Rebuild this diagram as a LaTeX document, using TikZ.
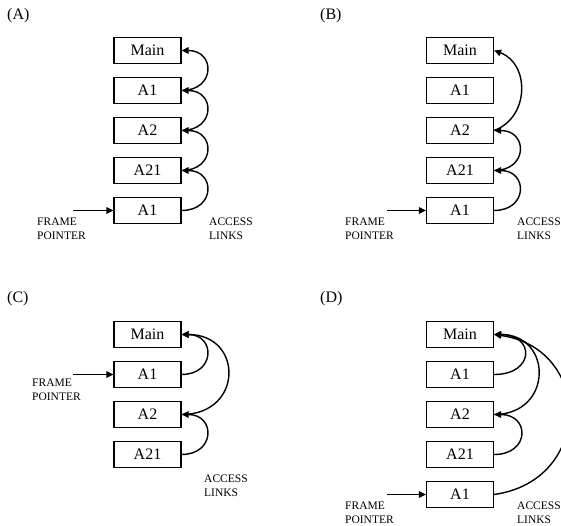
\documentclass[tikz,border=0pt]{standalone}
\usepackage{fontspec}
\setmainfont{Liberation Serif}
\usetikzlibrary{arrows.meta}
\begin{document}
\begin{tikzpicture}[x=1pt,y=1pt,
  recbox/.style={draw, line width=1.2pt, minimum width=67pt, minimum height=26pt, inner sep=0pt, font=\fontsize{16}{19}\selectfont},
  lbl/.style={align=left, inner sep=0pt, anchor=north west, font=\fontsize{11.5}{14}\selectfont},
  plabel/.style={inner sep=0pt, anchor=west, font=\fontsize{16}{19}\selectfont},
  link/.style={line width=1.4pt, -{Triangle[length=7pt,width=6.5pt]}},
  fparrow/.style={line width=1.4pt, -{Triangle[length=7pt,width=6.5pt]}}]
\useasboundingbox (0,0) rectangle (561,-526);
% ---------- (A)
\node[plabel] (pa) at (7,-16) {(A)};
\node[recbox] (a1) at (147.5,-50.5) {Main};
\node[recbox] (a2) at (147.5,-90.5) {A1};
\node[recbox] (a3) at (147.5,-130.5) {A2};
\node[recbox] (a4) at (147.5,-170.5) {A21};
\node[recbox] (a5) at (147.5,-210.5) {A1};
\coordinate (fa) at (73,-210.5);
\draw[fparrow] (fa) -- (a5.west);
\node[lbl] (fpa) at (37,-218) {FRAME\\POINTER};
\node[lbl] (ala) at (209,-218) {ACCESS\\LINKS};
\draw[link] (a5.east) to[out=0,in=0,distance=34pt] (a4.east);
\draw[link] (a4.east) to[out=0,in=0,distance=34pt] (a3.east);
\draw[link] (a3.east) to[out=0,in=0,distance=34pt] (a2.east);
\draw[link] (a2.east) to[out=0,in=0,distance=34pt] (a1.east);
% ---------- (B)
\node[plabel] (pb) at (320,-16) {(B)};
\node[recbox] (b1) at (460,-50.5) {Main};
\node[recbox] (b2) at (460,-90.5) {A1};
\node[recbox] (b3) at (460,-130.5) {A2};
\node[recbox] (b4) at (460,-170.5) {A21};
\node[recbox] (b5) at (460,-210.5) {A1};
\coordinate (fb) at (387,-210.5);
\draw[fparrow] (fb) -- (b5.west);
\node[lbl] (fpb) at (345,-218) {FRAME\\POINTER};
\node[lbl] (alb) at (517,-218) {ACCESS\\LINKS};
\draw[link] (b5.east) to[out=0,in=0,distance=34pt] (b4.east);
\draw[link] (b4.east) to[out=0,in=0,distance=34pt] (b3.east);
\draw[link] (b3.east) to[out=20,in=-20,distance=38pt] (b1.east);
% ---------- (C)
\node[plabel] (pc) at (7,-299) {(C)};
\node[recbox] (c1) at (147.5,-334.5) {Main};
\node[recbox] (c2) at (147.5,-374.5) {A1};
\node[recbox] (c3) at (147.5,-414.5) {A2};
\node[recbox] (c4) at (147.5,-454.5) {A21};
\coordinate (fc) at (73,-374.5);
\draw[fparrow] (fc) -- (c2.west);
\node[lbl] (fpc) at (32,-379) {FRAME\\POINTER};
\node[lbl] (alc) at (204,-475) {ACCESS\\LINKS};
\draw[link] (c2.east) to[out=0,in=0,distance=34pt] (c1.east);
\draw[link] (c3.east) to[out=0,in=0,distance=62pt] (c1.east);
\draw[link] (c4.east) to[out=0,in=0,distance=34pt] (c3.east);
% ---------- (D)
\node[plabel] (pd) at (320,-299) {(D)};
\node[recbox] (d1) at (460,-334.5) {Main};
\node[recbox] (d2) at (460,-374.5) {A1};
\node[recbox] (d3) at (460,-414.5) {A2};
\node[recbox] (d4) at (460,-454.5) {A21};
\node[recbox] (d5) at (460,-494.5) {A1};
\coordinate (fd) at (387,-494.5);
\draw[fparrow] (fd) -- (d5.west);
\node[lbl] (fpd) at (345,-502) {FRAME\\POINTER};
\node[lbl] (ald) at (517,-502) {ACCESS\\LINKS};
\draw[link] (d2.east) to[out=0,in=0,distance=41pt] (d1.east);
\draw[link] (d3.east) to[out=0,in=0,distance=59pt] (d1.east);
\draw[link] (d4.east) to[out=0,in=0,distance=36pt] (d3.east);
\draw[link] (d5.east) to[out=8,in=-8,distance=100pt] (d1.east);
\end{tikzpicture}
\end{document}
